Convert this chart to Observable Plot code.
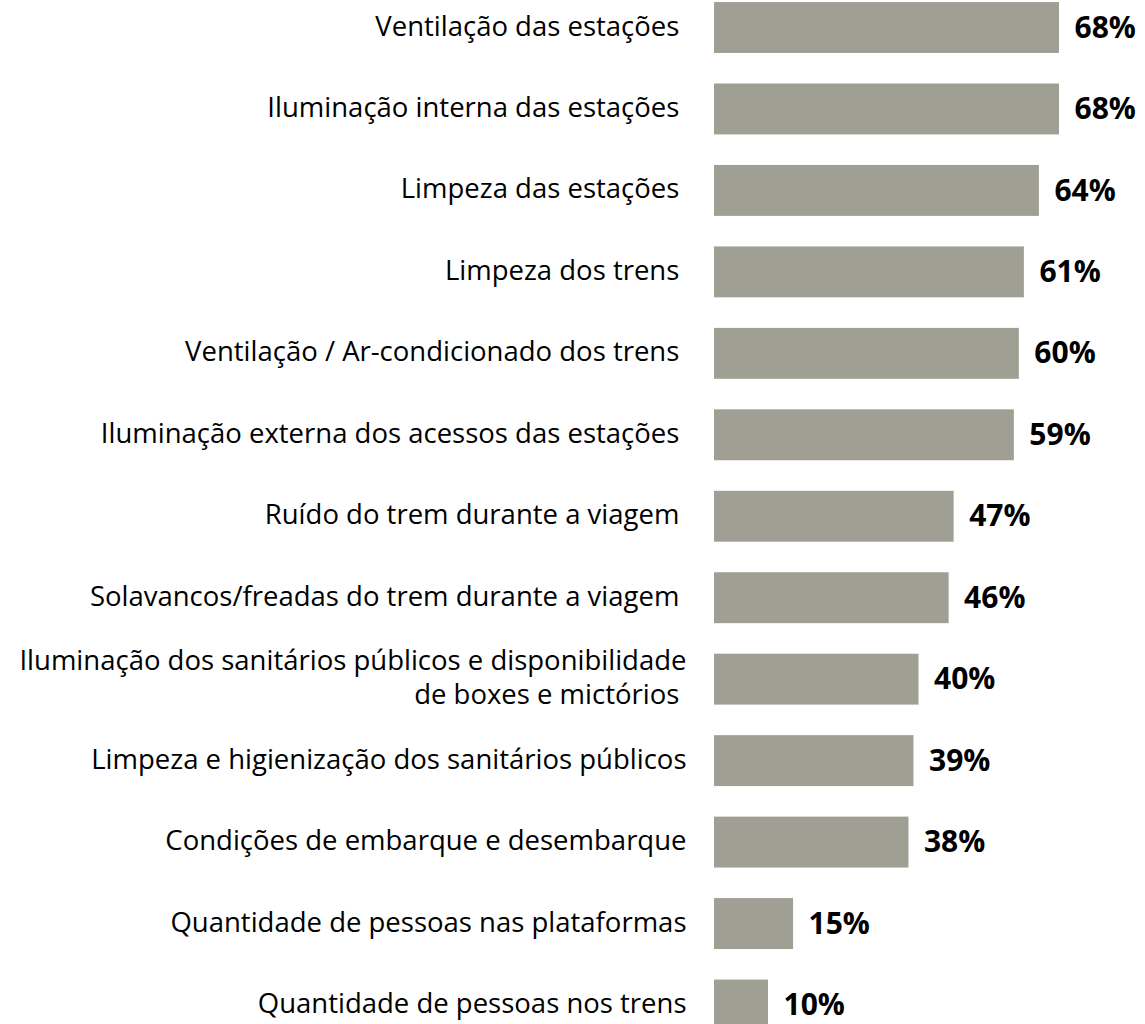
<!DOCTYPE html>
<html>
<head>
<meta charset="utf-8">
<script src="https://cdn.jsdelivr.net/npm/d3@7"></script>
<script src="https://cdn.jsdelivr.net/npm/@observablehq/plot@0.6"></script>
<style>
  html, body { margin: 0; padding: 0; background: #fff; overflow: hidden; }
  #chart svg { display: block; }
  #chart g[aria-label="categories"] text { letter-spacing: 0.9px; }
</style>
</head>
<body>
<div id="chart"></div>
<script>
const categories = [
  "Ventilação das estações ",
  "Iluminação interna das estações ",
  "Limpeza das estações ",
  "Limpeza dos trens ",
  "Ventilação / Ar-condicionado dos trens ",
  "Iluminação externa dos acessos das estações ",
  "Ruído do trem durante a viagem ",
  "Solavancos/freadas do trem durante a viagem ",
  "Iluminação dos sanitários públicos e disponibilidade\nde boxes e mictórios ",
  "Limpeza e higienização dos sanitários públicos",
  "Condições de embarque e desembarque",
  "Quantidade de pessoas nas plataformas",
  "Quantidade de pessoas nos trens"
];
const values = [68, 68, 64, 61, 60, 59, 47, 46, 40, 39, 38, 15, 10];

const data = categories.map((c, i) => ({category: c, value: values[i]}));

const chart = Plot.plot({
  width: 1145,
  height: 1024,
  marginLeft: 714,
  marginRight: 86,
  marginTop: 0,
  marginBottom: 0,
  style: {background: "#fff"},
  x: {domain: [0, 68], range: [717.8, 1059], axis: null},
  y: {domain: categories, range: [-28.5, 1061], padding: 0.375, round: false, axis: null},
  marks: [
    Plot.barX(data, {y: "category", x: "value", fill: "#a09f94", insetLeft: -3.8}),
    Plot.text(data, {
      y: "category", x: "value", text: d => `${d.value}%`,
      textAnchor: "start", dx: 15, dy: 0,
      fontSize: 30, fontWeight: "bold", fill: "#000",
      fontFamily: "Open Sans", ariaLabel: "values"
    }),
    Plot.text(data, {
      y: "category", frameAnchor: "left", text: "category",
      textAnchor: "end", dx: -28, dy: -3.5, lineHeight: 1.25,
      fontSize: 27.5, fill: "#000", fontFamily: "Open Sans", ariaLabel: "categories"
    })
  ]
});
document.getElementById("chart").appendChild(chart);
</script>
</body>
</html>
